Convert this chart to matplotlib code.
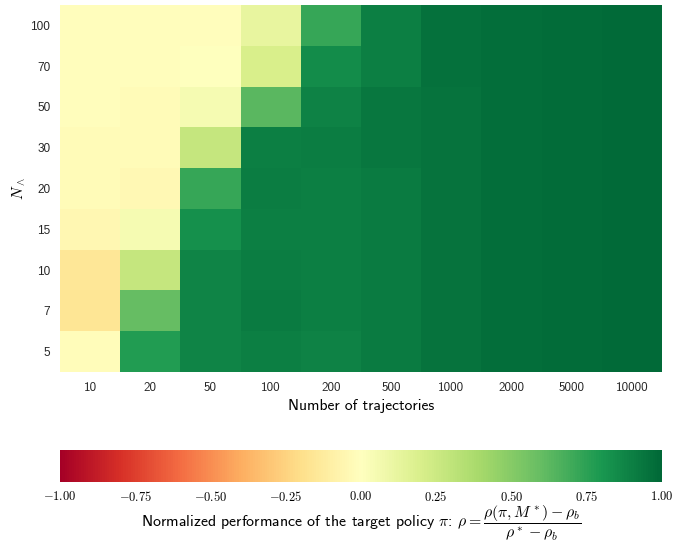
import numpy as np
import matplotlib
matplotlib.use('Agg')
import matplotlib.pyplot as plt
from matplotlib.ticker import FuncFormatter

plt.rcParams['mathtext.fontset'] = 'cm'

# number of trajectories (columns) and N_wedge (rows, top to bottom)
n_traj = ['10', '20', '50', '100', '200', '500', '1000', '2000', '5000', '10000']
n_wedge = ['100', '70', '50', '30', '20', '15', '10', '7', '5']

# normalized performance, one list per row
row_100 = [-0.01, -0.01, -0.01, 0.12, 0.72, 0.90, 0.96, 0.97, 0.98, 0.99]
row_70 = [-0.01, -0.01, 0.00, 0.20, 0.85, 0.90, 0.96, 0.97, 0.98, 0.99]
row_50 = [-0.01, -0.03, 0.05, 0.63, 0.89, 0.93, 0.95, 0.97, 0.98, 0.99]
row_30 = [-0.03, -0.03, 0.28, 0.90, 0.91, 0.93, 0.95, 0.97, 0.98, 0.99]
row_20 = [-0.03, -0.04, 0.72, 0.91, 0.90, 0.92, 0.95, 0.97, 0.98, 0.99]
row_15 = [-0.05, 0.05, 0.83, 0.90, 0.90, 0.92, 0.95, 0.97, 0.98, 0.99]
row_10 = [-0.15, 0.28, 0.88, 0.91, 0.90, 0.92, 0.95, 0.97, 0.98, 0.99]
row_7 = [-0.16, 0.60, 0.88, 0.92, 0.90, 0.92, 0.95, 0.97, 0.98, 0.99]
row_5 = [-0.02, 0.78, 0.88, 0.90, 0.89, 0.92, 0.95, 0.97, 0.98, 0.99]

data = np.array([row_100, row_70, row_50, row_30, row_20, row_15, row_10, row_7, row_5])

W, H = 675, 543
fig = plt.figure(figsize=(W / 100, H / 100), dpi=100)
ax = fig.add_axes([60 / W, 1 - 372 / H, 602 / W, 367 / H])
cax = fig.add_axes([60 / W, 1 - 482 / H, 602 / W, 32 / H])

mesh = ax.pcolormesh(data, cmap='RdYlGn', vmin=-1, vmax=1)
ax.set_xlim(0, len(n_traj))
ax.set_ylim(len(n_wedge), 0)
for s in ax.spines.values():
    s.set_visible(False)

ax.set_xticks(np.arange(len(n_traj)) + 0.5)
ax.set_xticklabels(n_traj, family='cmss10', fontsize=9.5, color='#262626')
ax.set_yticks(np.arange(len(n_wedge)) + 0.5)
ax.set_yticklabels(n_wedge, family='Liberation Sans', fontsize=8.5, color='#262626')
ax.tick_params(length=0, pad=7)
ax.set_xlabel('Number of trajectories', family='cmss10', fontsize=11.2, labelpad=4)
ax.set_ylabel(r'$N_\wedge$', fontsize=11, labelpad=2)

cb = fig.colorbar(mesh, cax=cax, orientation='horizontal')
cb.outline.set_visible(False)
cb.set_ticks([-1, -0.75, -0.5, -0.25, 0, 0.25, 0.5, 0.75, 1])
cb.ax.xaxis.set_major_formatter(FuncFormatter(lambda v, p: '$%.2f$' % v))
cb.ax.tick_params(length=0, labelsize=9, pad=6)
cb.set_label(r'Normalized performance of the target policy $\pi$: $\rho = \dfrac{\rho(\pi, M^*) - \rho_b}{\rho^* - \rho_b}$',
             family='cmss10', fontsize=11.4, labelpad=0)

fig.savefig('out.png', dpi=100)
